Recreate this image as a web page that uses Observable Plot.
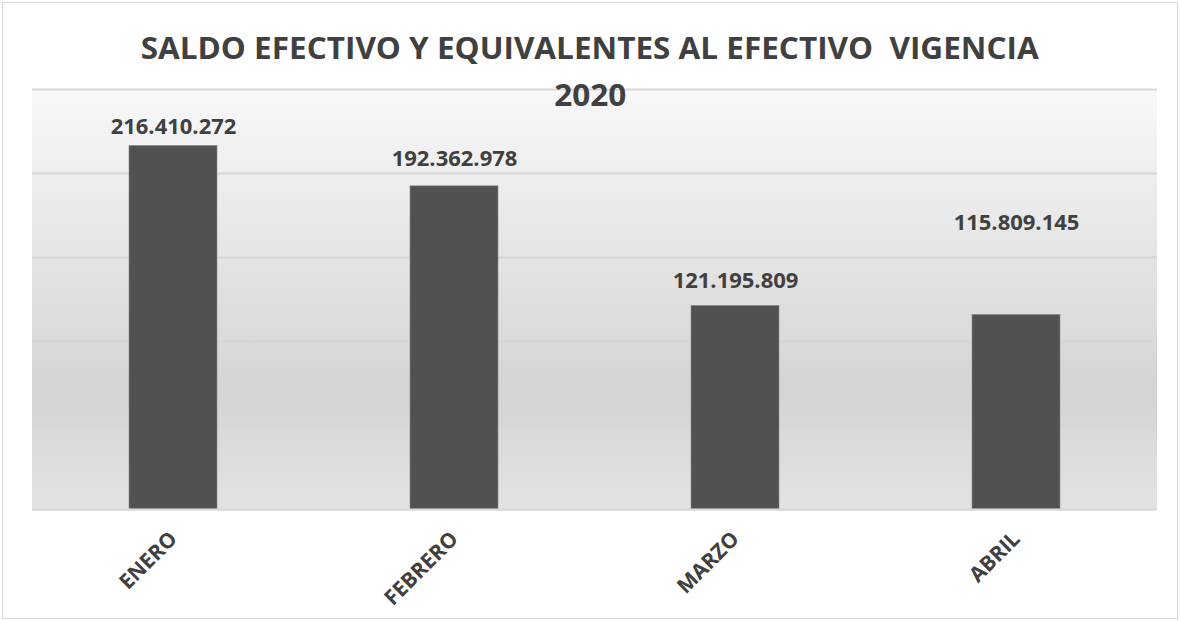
<!DOCTYPE html>
<html>
<head>
<meta charset="utf-8">
<script src="https://cdn.jsdelivr.net/npm/d3@7"></script>
<script src="https://cdn.jsdelivr.net/npm/@observablehq/plot@0.6"></script>
<style>
  html, body { margin: 0; padding: 0; background: #fff; }
  #wrap { position: relative; width: 1180px; height: 621px; overflow: hidden; }
  #frame { position: absolute; left: 2px; top: 2px; width: 1176px; height: 617px; box-sizing: border-box; border: 1px solid #d9d9d9; pointer-events: none; }
  #chart { position: absolute; left: 0; top: 0; }
  #title { position: absolute; left: 0; top: 24px; width: 1180px; text-align: center;
    font-family: "Open Sans", sans-serif; font-weight: 700; font-size: 30px; line-height: 47px; color: #404040; }
  #title span { display: inline-block; white-space: pre; transform-origin: center; }
</style>
</head>
<body>
<div id="wrap">
  <div id="chart"></div>
  <div id="title"><span id="t1">SALDO EFECTIVO Y EQUIVALENTES AL EFECTIVO  VIGENCIA</span><br><span id="t2">2020</span></div>
  <div id="frame"></div>
</div>
<script>
const months = ["ENERO", "FEBRERO", "MARZO", "ABRIL"];
const saldos = [216410272, 192362978, 121195809, 115809145];
const yTicks = [0, 50000000, 100000000, 150000000, 200000000, 250000000];

const data = months.map((m, i) => ({mes: m, valor: saldos[i]}));
const fmt = v => d3.format(",")(v).replace(/,/g, ".");
const font = "'Open Sans', sans-serif";
const labelStyle = {x: "mes", y: "valor", text: d => fmt(d.valor), fill: "#404040", fontWeight: "bold", fontSize: 22, fontFamily: font};

const chart = Plot.plot({
  width: 1180,
  height: 621,
  marginLeft: 32,
  marginRight: 23,
  marginTop: 89,
  marginBottom: 112,
  style: {background: "transparent", fontFamily: font},
  x: {domain: months, paddingInner: 0.687, paddingOuter: 0.3435, label: null},
  y: {domain: [0, 250000000], label: null},
  marks: [
    () => {
      const svgNS = "http://www.w3.org/2000/svg";
      const g = document.createElementNS(svgNS, "g");
      const defs = document.createElementNS(svgNS, "defs");
      defs.innerHTML = `<linearGradient id="bg" x1="0" y1="0" x2="0" y2="1">
        <stop offset="0" stop-color="#f8f8f8"/>
        <stop offset="0.72" stop-color="#d4d4d4"/>
        <stop offset="1" stop-color="#e3e3e3"/>
      </linearGradient>`;
      g.appendChild(defs);
      const r = document.createElementNS(svgNS, "rect");
      r.setAttribute("x", 32); r.setAttribute("y", 89);
      r.setAttribute("width", 1180 - 32 - 23); r.setAttribute("height", 621 - 89 - 112);
      r.setAttribute("fill", "url(#bg)");
      g.appendChild(r);
      return g;
    },
    Plot.gridY(yTicks, {stroke: "#d6d6d6", strokeOpacity: 1, strokeWidth: 2}),
    Plot.barY(data, {x: "mes", y: "valor", fill: "#515151", stroke: "#8a8a8a", strokeWidth: 0.6}),
    Plot.text(data.filter(d => d.mes === "ENERO"), {...labelStyle, dy: -19}),
    Plot.text(data.filter(d => d.mes === "FEBRERO"), {...labelStyle, dy: -27}),
    Plot.text(data.filter(d => d.mes === "MARZO"), {...labelStyle, dy: -25}),
    Plot.text(data.filter(d => d.mes === "ABRIL"), {...labelStyle, dy: -92}),
    Plot.ruleY([0], {stroke: "#d9d9d9", strokeWidth: 2}),
    Plot.axisY({ticks: [], label: null}),
    Plot.axisX({tickSize: 0, tickRotate: -45, tickPadding: 26, dx: 0, fill: "#404040", fontWeight: "bold", fontSize: 21, fontFamily: font, label: null})
  ]
});
document.getElementById("chart").appendChild(chart);

// compress title to match the narrow original face
const t1 = document.getElementById("t1");
const t2 = document.getElementById("t2");
const k = 898 / t1.getBoundingClientRect().width;
t1.style.transform = `scaleX(${k})`;
t2.style.transform = `scaleX(${k})`;
</script>
</body>
</html>
